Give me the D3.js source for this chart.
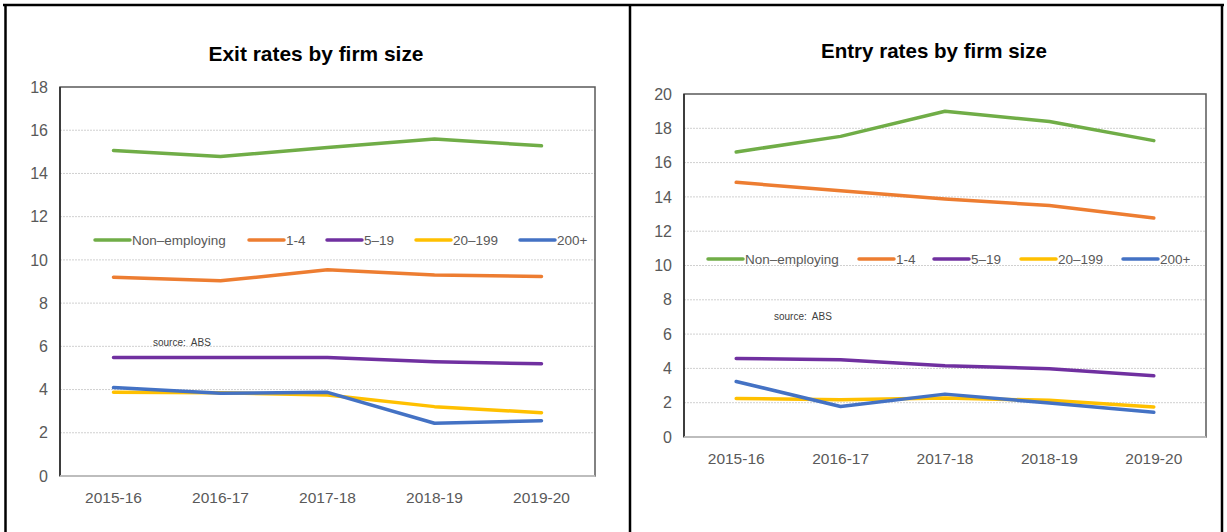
<!DOCTYPE html>
<html>
<head>
<meta charset="utf-8">
<script src="https://cdn.jsdelivr.net/npm/d3@7"></script>
<style>
  body { margin: 0; background: #fff; }
  svg text { font-family: 'Liberation Sans', Arial, sans-serif; }
</style>
</head>
<body>
<svg id="chart" width="1227" height="532"></svg>
<script>
// Datos
years = ['2015-16', '2016-17', '2017-18', '2018-19', '2019-20']
series = ['Non\u2013employing', '1-4', '5\u201319', '20\u2013199', '200+']
colores = ['#70ad47', '#ed7d31', '#7030a0', '#ffc000', '#4472c4']

exitNonEmp = [15.06, 14.78, 15.2, 15.59, 15.28]
exit1a4    = [9.2, 9.03, 9.54, 9.3, 9.23]
exit5a19   = [5.48, 5.48, 5.48, 5.29, 5.19]
exit20a199 = [3.87, 3.85, 3.75, 3.21, 2.93]
exit200    = [4.09, 3.83, 3.87, 2.44, 2.56]

entryNonEmp = [16.62, 17.53, 18.99, 18.4, 17.28]
entry1a4    = [14.85, 14.36, 13.88, 13.5, 12.77]
entry5a19   = [4.58, 4.51, 4.16, 3.98, 3.57]
entry20a199 = [2.25, 2.17, 2.27, 2.14, 1.75]
entry200    = [3.24, 1.78, 2.5, 1.98, 1.44]

exitTicks  = [0, 2, 4, 6, 8, 10, 12, 14, 16, 18]
entryTicks = [0, 2, 4, 6, 8, 10, 12, 14, 16, 18, 20]

svg = d3.select('#chart')

// Marco general
svg.append('line').attr('x1', 3).attr('x2', 1224).attr('y1', 5).attr('y2', 5)
  .attr('stroke', '#000').attr('stroke-width', 2.5)
svg.append('line').attr('x1', 5.5).attr('x2', 5.5).attr('y1', 4).attr('y2', 532)
  .attr('stroke', '#000').attr('stroke-width', 2.5)
svg.append('line').attr('x1', 630).attr('x2', 630).attr('y1', 4).attr('y2', 532)
  .attr('stroke', '#000').attr('stroke-width', 2.5)
svg.append('line').attr('x1', 1222).attr('x2', 1222).attr('y1', 4).attr('y2', 532)
  .attr('stroke', '#000').attr('stroke-width', 2.5)

function grafica(cfg) {
  g = svg.append('g')
  x = d3.scaleBand().domain(years).range([cfg.left, cfg.right])
  y = d3.scaleLinear().domain([0, d3.max(cfg.ticks)]).range([cfg.bottom, cfg.top])

  // titulo
  g.append('text')
    .attr('x', cfg.titleX).attr('y', cfg.titleY)
    .attr('text-anchor', 'middle')
    .attr('font-size', 21).attr('font-weight', 'bold').attr('fill', '#000')
    .attr('textLength', cfg.titleW).attr('lengthAdjust', 'spacingAndGlyphs')
    .text(cfg.title)

  // grid
  g.append('g').selectAll('line')
    .data(cfg.ticks.slice(1, -1))
    .enter().append('line')
      .attr('x1', cfg.left).attr('x2', cfg.right)
      .attr('y1', d => y(d)).attr('y2', d => y(d))
      .attr('stroke', '#d0d0d0').attr('stroke-width', 1)
      .attr('stroke-dasharray', '2,1')

  // eje y
  yAxis = d3.axisLeft(y).tickValues(cfg.ticks).tickSize(0).tickPadding(12)
  g.append('g')
    .attr('transform', `translate(${cfg.left}, 0)`)
    .call(yAxis)
    .call(a => a.select('.domain').remove())
    .selectAll('text')
      .attr('font-size', 16).attr('fill', '#595959')
      .attr('font-family', "'Liberation Sans', Arial, sans-serif")

  // eje x
  xAxis = d3.axisBottom(x).tickSize(0).tickPadding(16)
  g.append('g')
    .attr('transform', `translate(0, ${cfg.bottom})`)
    .call(xAxis)
    .call(a => a.select('.domain').remove())
    .selectAll('text')
      .attr('font-size', 15.5).attr('fill', '#595959')
      .attr('font-family', "'Liberation Sans', Arial, sans-serif")

  // marco del area
  g.append('rect')
    .attr('x', cfg.left).attr('y', cfg.top)
    .attr('width', cfg.right - cfg.left).attr('height', cfg.bottom - cfg.top)
    .attr('fill', 'none').attr('stroke', '#595959').attr('stroke-width', 1.5)
  g.append('line')
    .attr('x1', cfg.left).attr('x2', cfg.left).attr('y1', cfg.top).attr('y2', cfg.bottom)
    .attr('stroke', '#262626').attr('stroke-width', 1.5)
  g.append('line')
    .attr('x1', cfg.left).attr('x2', cfg.right).attr('y1', cfg.bottom).attr('y2', cfg.bottom)
    .attr('stroke', '#d0d0d0').attr('stroke-width', 1.5)

  // lineas
  linea = d3.line()
    .x((d, i) => x(years[i]) + x.bandwidth() / 2)
    .y(d => y(d))

  cfg.data.forEach((serie, i) => {
    g.append('path')
      .attr('d', linea(serie))
      .attr('fill', 'none')
      .attr('stroke', colores[i])
      .attr('stroke-width', 3.5)
      .attr('stroke-linecap', 'round')
      .attr('stroke-linejoin', 'round')
  })

  // leyenda
  ley = g.append('g').selectAll('g')
    .data(series)
    .enter().append('g')
      .attr('transform', (d, i) => `translate(${cfg.legX[i]}, ${cfg.legY})`)
  ley.append('line')
    .attr('x1', 0).attr('x2', 35).attr('y1', 0).attr('y2', 0)
    .attr('stroke', (d, i) => colores[i]).attr('stroke-width', 3.5)
    .attr('stroke-linecap', 'round')
  ley.append('text')
    .attr('x', 37).attr('y', 5)
    .attr('font-size', 13.5).attr('fill', '#595959')
    .text(d => d)

  // fuente
  g.append('text')
    .attr('x', cfg.srcX).attr('y', cfg.srcY)
    .attr('font-size', 10).attr('fill', '#404040')
    .attr('xml:space', 'preserve')
    .text('source:  ABS')
}

grafica({
  title: 'Exit rates by firm size', titleX: 316, titleY: 61, titleW: 215,
  left: 60, right: 595, top: 87, bottom: 476,
  ticks: exitTicks,
  data: [exitNonEmp, exit1a4, exit5a19, exit20a199, exit200],
  legX: [95, 249, 327, 416, 520], legY: 240,
  srcX: 153, srcY: 346
})

grafica({
  title: 'Entry rates by firm size', titleX: 934, titleY: 58, titleW: 226,
  left: 684, right: 1206, top: 94, bottom: 437,
  ticks: entryTicks,
  data: [entryNonEmp, entry1a4, entry5a19, entry20a199, entry200],
  legX: [708, 859, 934, 1021, 1123], legY: 259,
  srcX: 774, srcY: 320
})
</script>
</body>
</html>
